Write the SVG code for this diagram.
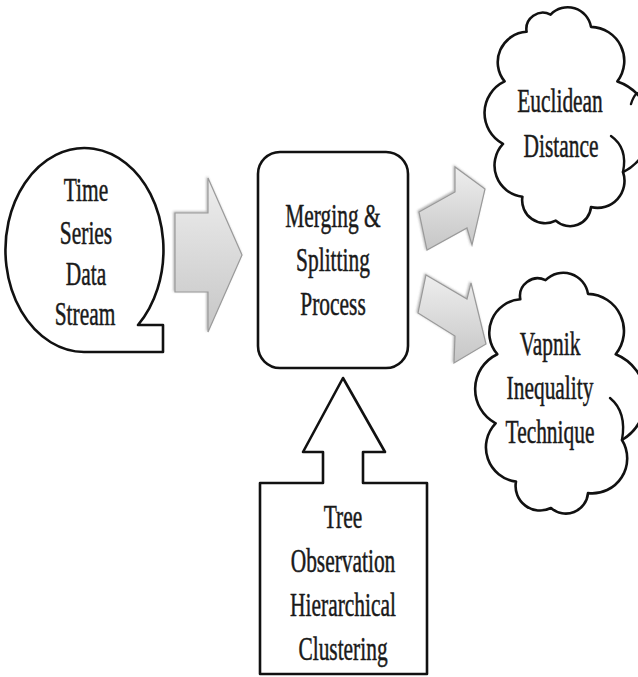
<svg xmlns="http://www.w3.org/2000/svg" width="638" height="677" viewBox="0 0 638 677">
<style>
.node{fill:#ffffff;stroke:#111111;stroke-width:2.6;stroke-linejoin:round}
.inner{fill:none;stroke:#111111;stroke-width:2.4;stroke-linecap:round}
.lbl{font-family:"Liberation Serif","Times New Roman",serif;font-size:34px;fill:#1a1a1a;stroke:#1a1a1a;stroke-width:0.5;text-anchor:middle}
.arrow{fill:url(#gray);stroke:#9a9a9a;stroke-width:1.2;stroke-linejoin:miter;filter:url(#sh)}
</style>
<defs>
<linearGradient id="gray" x1="0" y1="0" x2="0" y2="1">
<stop offset="0" stop-color="#eeeeee"/>
<stop offset="1" stop-color="#c6c6c6"/>
</linearGradient>
<filter id="sh" x="-20%" y="-20%" width="140%" height="140%">
<feDropShadow dx="-1" dy="-1" stdDeviation="1" flood-color="#555555" flood-opacity="0.45"/>
</filter>
</defs>
<rect width="638" height="677" fill="#ffffff"/>

<g id="connectors">
<polygon class="arrow" points="175,213 208,213 208,178 242,255 208,332 208,292 175,292"/>
<polygon class="arrow" points="419,212 455,192 455,167 485,189 472,245 467,228 427,250"/>
<polygon class="arrow" points="426,275 467,299 471,283 486,344 454,363 455,336 418,313"/>
</g>

<g id="time-series">
<path class="node" d="M84,352 A79,102 0 1 1 138,325 L163,325 L163,352 Z"/>
<text class="lbl" transform="translate(86,201) scale(0.63,1)">Time</text>
<text class="lbl" transform="translate(86,244) scale(0.63,1)">Series</text>
<text class="lbl" transform="translate(86,285) scale(0.63,1)">Data</text>
<text class="lbl" transform="translate(85,325) scale(0.63,1)">Stream</text>
</g>

<g id="merging">
<rect class="node" x="258" y="152" width="150" height="216" rx="22" ry="22"/>
<text class="lbl" transform="translate(333,227) scale(0.63,1)">Merging &amp;</text>
<text class="lbl" transform="translate(333,271) scale(0.63,1)">Splitting</text>
<text class="lbl" transform="translate(333,315) scale(0.63,1)">Process</text>
</g>

<g id="tree">
<path class="node" d="M260,483 L323,483 L323,452 L303,452 L343,378 L385,452 L363,452 L363,483 L427,483 L427,674 L260,674 Z"/>
<text class="lbl" transform="translate(343,528) scale(0.63,1)">Tree</text>
<text class="lbl" transform="translate(343,572) scale(0.63,1)">Observation</text>
<text class="lbl" transform="translate(343,616) scale(0.63,1)">Hierarchical</text>
<text class="lbl" transform="translate(343,660) scale(0.63,1)">Clustering</text>
</g>

<g id="euclidean">
<path class="node" d="M550.6,14.6 A23.6,23.6 0 0 1 591,26.9 A34,34 0 0 1 617.4,81.4 A49,49 0 0 1 623,172 A27,27 0 0 1 591,207.1 A21,21 0 0 1 555.8,220.6 A23,23 0 0 1 522.4,196.7 A31.5,31.5 0 0 1 503,143.9 A35,35 0 0 1 504.6,81.4 A30.4,30.4 0 0 1 526.6,31.8 A16.5,16.5 0 0 1 550.6,14.6 Z"/>
<path class="inner" d="M623,172 Q628,148 611,136"/>
<path class="inner" d="M631,104 Q633,97 637,93"/>
<text class="lbl" transform="translate(560,112) scale(0.63,1)">Euclidean</text>
<text class="lbl" transform="translate(561,157) scale(0.63,1)">Distance</text>
</g>

<g id="vapnik">
<path class="node" d="M545.5,280.2 A25,25 0 0 1 588,293.9 A37,37 0 0 1 615.7,354.2 A48,48 0 0 1 622,440 A35,35 0 0 1 588,493.1 A22.3,22.3 0 0 1 551,508 A24.5,24.5 0 0 1 516,481.6 A34.6,34.6 0 0 1 495.6,423.3 A38.7,38.7 0 0 1 497.3,354.2 A33.3,33.3 0 0 1 520.3,299.3 A17.7,17.7 0 0 1 545.5,280.2 Z"/>
<path class="inner" d="M622,440 Q627,412 610,398"/>
<text class="lbl" transform="translate(550,355) scale(0.63,1)">Vapnik</text>
<text class="lbl" transform="translate(550,399) scale(0.63,1)">Inequality</text>
<text class="lbl" transform="translate(550,443) scale(0.63,1)">Technique</text>
</g>
</svg>
